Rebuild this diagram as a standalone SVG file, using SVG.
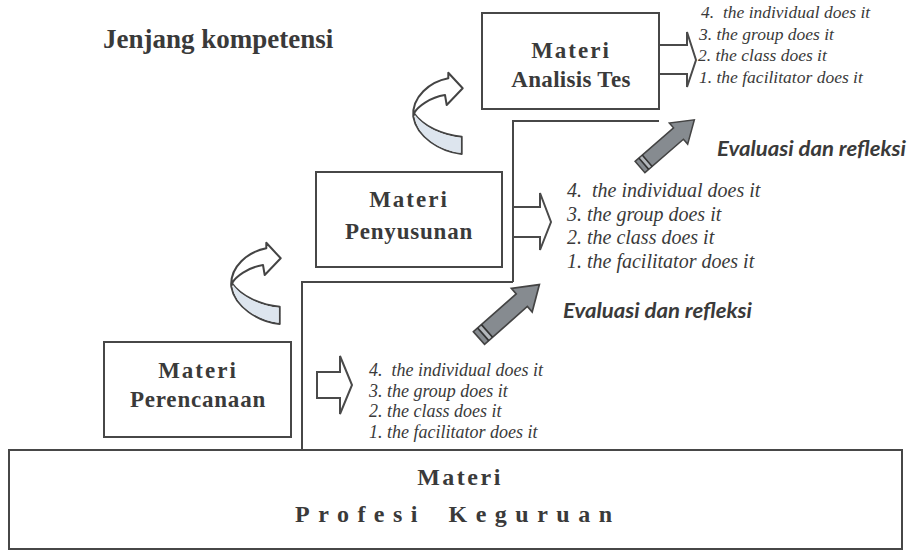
<svg xmlns="http://www.w3.org/2000/svg" xmlns:xlink="http://www.w3.org/1999/xlink" width="914" height="552" viewBox="0 0 914 552">
  <style>
    .box { fill: #ffffff; stroke: #474747; stroke-width: 2; }
    .head { font-family: "Liberation Serif", "Times New Roman", serif; font-weight: bold; fill: #3a3a3a; text-anchor: middle; }
    .m { font-size: 23px; letter-spacing: 2px; }
    .s { font-size: 23px; letter-spacing: 0.8px; }
    .list { font-family: "Liberation Serif", "Times New Roman", serif; font-style: italic; fill: #3a3a3a; }
    .eval { font-family: Lato, "Open Sans", "Liberation Sans", sans-serif; font-style: italic; font-weight: bold; font-size: 21px; fill: #3a3a3a; }
    .step { fill: none; stroke: #474747; stroke-width: 2; }
    .hollow { fill: #ffffff; stroke: #4a4a4a; stroke-width: 2; stroke-linejoin: miter; }
    .curve { fill: #ffffff; stroke: #444444; stroke-width: 2; stroke-linejoin: round; }
    .shade { fill: #dde5ee; stroke: none; }
    .garrow { fill: #868b90; stroke: #444444; stroke-width: 1.5; stroke-linejoin: miter; }
    .stripe { stroke: #333333; stroke-width: 1.6; }
  </style>
  <defs>
    <g id="curved">
      <path class="curve" d="M81.7,76.7 L81.7,94 C60,91.7 36.7,76.7 33.3,56.7 C31.7,36.7 50,21.7 68.3,18.3 L68.3,12.7 L82.7,28.3 L66.7,45 L65,35 C50,37.3 37.3,46.7 34,53.3 C43.3,66.7 63.3,75 81.7,76.7 Z"/>
      <path class="shade" d="M35,55 C44,67.5 63.5,76 80.7,77.8 L80.7,92.8 C60,90.5 38,76.5 35,58 Z"/>
    </g>
    <g id="gray">
      <path class="garrow" d="M0,-7.5 H51 V-14 L72,0 L51,14 V7.5 H0 Z"/>
      <line class="stripe" x1="5" y1="-7.5" x2="5" y2="7.5"/>
      <line class="stripe" x1="9.5" y1="-7.5" x2="9.5" y2="7.5"/>
      <rect x="6" y="-6.7" width="2.6" height="13.4" fill="#b4b8bc"/>
    </g>
  </defs>

  <g id="title">
    <text class="head" x="103" y="48" style="text-anchor:start;font-size:27px">Jenjang kompetensi</text>
  </g>

  <g id="connectors">
    <!-- steps -->
    <path class="step" d="M513,282 V121 H659"/>
    <path class="step" d="M302,450 V282 H513"/>
    <!-- hollow arrows -->
    <path class="hollow" d="M660,45 H687 V32 L696,60 L687,87 V74 H660"/>
    <path class="hollow" d="M514,207 H540 V193 L551,222 L540,250 V237 H514"/>
    <path class="hollow" d="M317,372 H340 V356 L352,385 L340,414 V398 H317 Z"/>
    <!-- curved arrows -->
    <use xlink:href="#curved" transform="translate(380,60)"/>
    <use xlink:href="#curved" transform="translate(198,230)"/>
    <!-- gray arrows -->
    <use xlink:href="#gray" transform="translate(640,167) rotate(-41)"/>
    <use xlink:href="#gray" transform="translate(479,338) rotate(-41.5) scale(1.12)"/>
  </g>

  <g id="node-analisis">
    <rect class="box" x="482" y="13" width="177" height="96"/>
    <text class="head m" x="571" y="58">Materi</text>
    <text class="head s" x="571" y="87" style="letter-spacing:0.3px">Analisis Tes</text>
  </g>

  <g id="node-penyusunan">
    <rect class="box" x="316" y="172" width="186" height="95"/>
    <text class="head m" x="409" y="207">Materi</text>
    <text class="head s" x="409" y="239">Penyusunan</text>
  </g>

  <g id="node-perencanaan">
    <rect class="box" x="104" y="342" width="187" height="95"/>
    <text class="head m" x="198" y="378">Materi</text>
    <text class="head s" x="198" y="407">Perencanaan</text>
  </g>

  <g id="node-profesi">
    <rect class="box" x="9" y="450" width="893" height="99"/>
    <text class="head" x="460" y="485" style="font-size:24px;letter-spacing:2.5px">Materi</text>
    <text class="head" x="295" y="522" style="text-anchor:start;font-size:24px;letter-spacing:8.5px;word-spacing:8px">Profesi Keguruan</text>
  </g>

  <g id="list-analisis" class="list" style="font-size:17.5px">
    <text x="701" y="18" xml:space="preserve">4.  the individual does it</text>
    <text x="699" y="39.5">3. the group does it</text>
    <text x="698" y="61">2. the class does it</text>
    <text x="699" y="82.5">1. the facilitator does it</text>
  </g>

  <g id="list-penyusunan" class="list" style="font-size:20px">
    <text x="567" y="197" xml:space="preserve">4.  the individual does it</text>
    <text x="567" y="220.5">3. the group does it</text>
    <text x="567" y="244">2. the class does it</text>
    <text x="567" y="267.5">1. the facilitator does it</text>
  </g>

  <g id="list-perencanaan" class="list" style="font-size:18px">
    <text x="369" y="376" xml:space="preserve">4.  the individual does it</text>
    <text x="369" y="396.5">3. the group does it</text>
    <text x="369" y="417">2. the class does it</text>
    <text x="369" y="437.5">1. the facilitator does it</text>
  </g>

  <g id="eval-labels">
    <text class="eval" x="717" y="156" textLength="189" lengthAdjust="spacingAndGlyphs">Evaluasi dan refleksi</text>
    <text class="eval" x="563" y="318" textLength="189" lengthAdjust="spacingAndGlyphs">Evaluasi dan refleksi</text>
  </g>
</svg>
